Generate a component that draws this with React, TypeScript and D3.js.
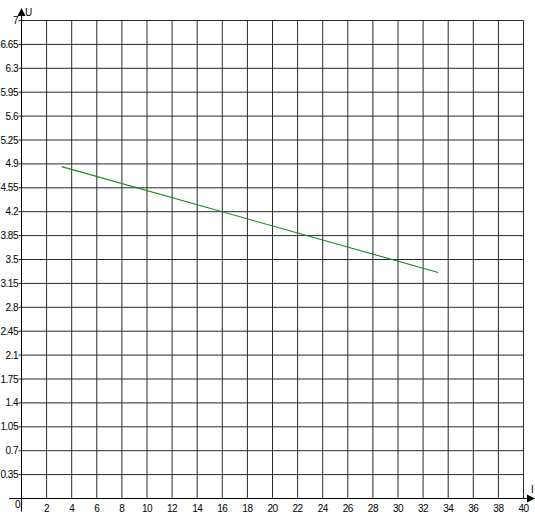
import React from "react";
import * as d3 from "d3";

const xTicks = [0, 2, 4, 6, 8, 10, 12, 14, 16, 18, 20, 22, 24, 26, 28, 30, 32, 34, 36, 38, 40];
const yTicks = [0.35, 0.7, 1.05, 1.4, 1.75, 2.1, 2.45, 2.8, 3.15, 3.5, 3.85, 4.2, 4.55, 4.9, 5.25, 5.6, 5.95, 6.3, 6.65, 7];
const yTickLabels = ["0.35", "0.7", "1.05", "1.4", "1.75", "2.1", "2.45", "2.8", "3.15", "3.5", "3.85", "4.2", "4.55", "4.9", "5.25", "5.6", "5.95", "6.3", "6.65", "7"];
const currentI = [3.2, 33.2];
const voltageU = [4.86, 3.31];

export default function App() {
  const W = 535, H = 518;
  const x = d3.scaleLinear().domain([0, 40]).range([21.5, 523.5]);
  const y = d3.scaleLinear().domain([0, 7]).range([498.5, 20.5]);
  const pts: [number, number][] = currentI.map((v, i) => [v, voltageU[i]]);
  const line = d3.line<[number, number]>().x(d => x(d[0])).y(d => y(d[1]));
  const gridColor = "#2a2a2a";
  const font = "'Liberation Sans', Arial, sans-serif";
  return (
    <svg width={W} height={H} style={{ position: "absolute", left: 0, top: 0, background: "#fff" }}>
      <rect x={0} y={0} width={W} height={H} fill="#fff" />
      {xTicks.slice(1).map(t => (
        <line key={"vx" + t} x1={x(t)} x2={x(t)} y1={y(7)} y2={y(0)} stroke={gridColor} strokeWidth={1} />
      ))}
      {yTicks.map(t => (
        <line key={"hy" + t} x1={x(0) - 3} x2={x(40)} y1={y(t)} y2={y(t)} stroke={gridColor} strokeWidth={1} />
      ))}
      <line x1={x(0)} x2={x(0)} y1={y(0) + 13} y2={12} stroke="#000" strokeWidth={1} />
      <line x1={9} x2={528} y1={y(0)} y2={y(0)} stroke="#000" strokeWidth={1} />
      <path d={`M ${x(0)} 8 L ${x(0) - 4} 16 L ${x(0) + 4} 16 Z`} fill="#000" />
      <path d={`M 535 ${y(0)} L 527 ${y(0) - 4} L 527 ${y(0) + 4} Z`} fill="#000" />
      <text x={25} y={16} fontFamily={font} fontSize={10} fill="#000">U</text>
      <text x={531} y={493} fontFamily={font} fontSize={10} fill="#000">I</text>
      {yTicks.map((t, i) => (
        <text key={"yl" + t} x={18} y={y(t) + 3.5} textAnchor="end" fontFamily={font} fontSize={10} letterSpacing={-0.5} fill="#000">
          {yTickLabels[i]}
        </text>
      ))}
      {xTicks.map(t => (
        <text key={"xl" + t} x={t === 0 ? 17.5 : x(t)} y={t === 0 ? 508 : 512} textAnchor="middle" fontFamily={font} fontSize={10} letterSpacing={-0.5} fill="#000">
          {String(t)}
        </text>
      ))}
      <path d={line(pts) || ""} fill="none" stroke="#1a8a1a" strokeWidth={1.1} />
    </svg>
  );
}
